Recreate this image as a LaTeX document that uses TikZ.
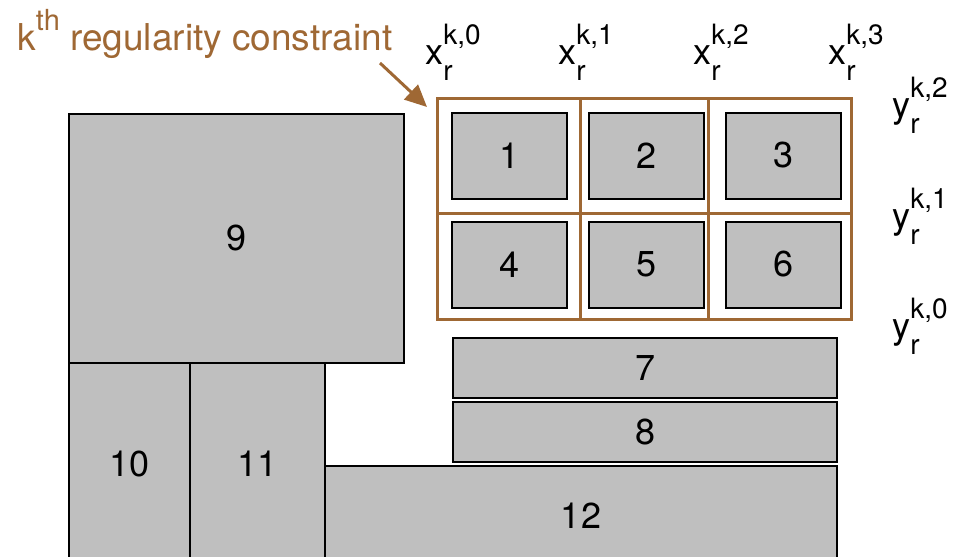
\documentclass[tikz,border=0pt]{standalone}
\usepackage{fontspec}
\setmainfont{TeX Gyre Heros}
\usepackage{tikz}
\usetikzlibrary{positioning,arrows.meta}

\definecolor{constraint}{RGB}{159,104,52}
\definecolor{block}{RGB}{191,191,191}

% index with superscript k,i and subscript r
\newcommand{\idx}[2]{#1\rlap{\raisebox{10pt}{\fontsize{14}{14}\selectfont #2}}\raisebox{-8pt}{\fontsize{14}{14}\selectfont r}}

\begin{document}
\begin{tikzpicture}[x=0.5pt, y=-0.5pt, node distance=10pt,
    every node/.style={font=\fontsize{18}{21}\selectfont},
    box/.style={rectangle, draw, fill=block, line width=1pt, inner sep=0pt},
    cell/.style={box, minimum width=57.5pt, minimum height=43pt},
    gridline/.style={draw=constraint, line width=1.5pt},
    bound/.style={anchor=base west, inner sep=0pt}]
    \useasboundingbox (0,0) rectangle (956,556);
    \clip (0,0) rectangle (956,556);

    % constraint grid
    \draw [gridline] (437,98) rectangle (851,319);
    \draw [gridline] (580,98) -- (580,319) (708,98) -- (708,319) (437,213) -- (851,213);

    \node (b1) [cell] at (509.5,155.5) {1};
    \node (b2) [cell, right=of b1] {2};
    \node (b3) [cell, right=of b2] {3};
    \node (b4) [cell, below=10.5pt of b1] {4};
    \node (b5) [cell, right=of b4] {5};
    \node (b6) [cell, right=of b5] {6};

    \node (b7) [box, anchor=north west, minimum width=192pt, minimum height=30pt] at (452,337) {7};
    \node (b8) [box, anchor=north west, minimum width=192pt, minimum height=30pt] at (452,401) {8};
    \node (b9) [box, anchor=north west, minimum width=167.5pt, minimum height=124.5pt] at (68,113) {9};
    \node (b10) [box, anchor=north west, minimum width=60.5pt, minimum height=101pt] at (68,362) {10};
    \node (b11) [box, anchor=north west, minimum width=67.5pt, minimum height=101pt] at (189,362) {11};
    \node (b12) [box, anchor=north west, minimum width=256pt, minimum height=49.5pt] at (324,465) {12};

    % grid labels
    \node (x0) [bound] at (425,65) {\idx{x}{k,0}};
    \node (x1) [bound] at (558,65) {\idx{x}{k,1}};
    \node (x2) [bound] at (693,65) {\idx{x}{k,2}};
    \node (x3) [bound] at (828,65) {\idx{x}{k,3}};
    \node (y2) [bound] at (892,118) {\idx{y}{k,2}};
    \node (y1) [bound] at (892,228) {\idx{y}{k,1}};
    \node (y0) [bound] at (892,338) {\idx{y}{k,0}};

    \node (title) [bound, text=constraint, font=\fontsize{18.5}{22}\selectfont] at (17,51)
        {k\raisebox{10pt}{\fontsize{14.5}{14.5}\selectfont th} regularity constraint};
    \coordinate (from) at (380,63);
    \coordinate (tip) at (427,107);
    \draw [constraint, line width=1.5pt, -{Triangle[length=11pt,width=10pt]}] (from) -- (tip);
\end{tikzpicture}
\end{document}
